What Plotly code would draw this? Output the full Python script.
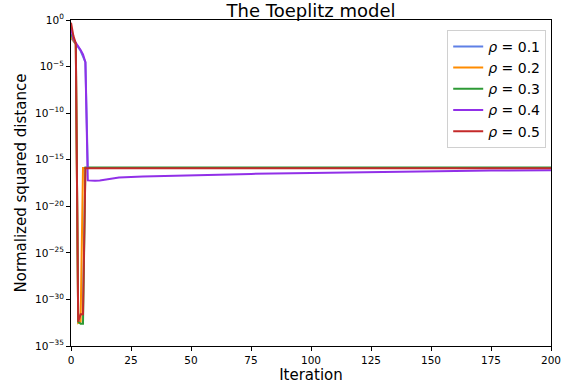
import plotly.graph_objects as go

# iterations at which values are sampled (dense at start, sparse later)
iters_early = [0, 1, 2, 3, 4, 5, 6, 7, 8, 10, 12, 15, 20, 30, 40, 50, 60, 75, 100, 125, 150, 175, 200]

rho_labels = ["0.1", "0.2", "0.3", "0.4", "0.5"]

dist_rho01 = [1.2e-2, 6e-3, 3e-3, 1.2e-3, 5e-4, 1.5e-4, 3e-5, 1.3e-16, 1.3e-16, 1.3e-16, 1.3e-16, 1.3e-16, 1.3e-16,
              1.3e-16, 1.3e-16, 1.3e-16, 1.3e-16, 1.3e-16, 1.3e-16, 1.3e-16, 1.3e-16, 1.3e-16, 1.3e-16]
dist_rho02 = [1.6e-2, 6e-3, 2.5e-3, 3e-33, 4e-33, 1.3e-16, 1.3e-16, 1.3e-16, 1.3e-16, 1.3e-16, 1.3e-16, 1.3e-16,
              1.3e-16, 1.3e-16, 1.3e-16, 1.3e-16, 1.3e-16, 1.3e-16, 1.3e-16, 1.3e-16, 1.3e-16, 1.3e-16, 1.3e-16]
dist_rho03 = [3e-2, 8e-3, 3e-3, 4e-33, 2.5e-33, 2.5e-33, 1.5e-16, 1.5e-16, 1.5e-16, 1.5e-16, 1.5e-16, 1.5e-16,
              1.5e-16, 1.5e-16, 1.5e-16, 1.5e-16, 1.5e-16, 1.5e-16, 1.5e-16, 1.5e-16, 1.5e-16, 1.5e-16, 1.5e-16]
dist_rho04 = [1.2e-1, 1e-2, 3.5e-3, 1.5e-3, 6e-4, 2e-4, 3e-5, 6e-18, 5.5e-18, 5.5e-18, 5.8e-18, 7.5e-18, 1.2e-17,
              1.6e-17, 1.9e-17, 2.2e-17, 2.5e-17, 3e-17, 3.7e-17, 4.7e-17, 5.7e-17, 6.8e-17, 7.5e-17]
dist_rho05 = [5e-1, 2e-2, 3e-3, 4e-33, 2.5e-32, 2.5e-32, 1.2e-16, 1.2e-16, 1.2e-16, 1.2e-16, 1.2e-16, 1.2e-16,
              1.2e-16, 1.2e-16, 1.2e-16, 1.2e-16, 1.2e-16, 1.2e-16, 1.2e-16, 1.2e-16, 1.2e-16, 1.2e-16, 1.2e-16]

x_ticks = [0, 25, 50, 75, 100, 125, 150, 175, 200]
y_tick_exps = [0, -5, -10, -15, -20, -25, -30, -35]

series = [dist_rho01, dist_rho02, dist_rho03, dist_rho04, dist_rho05]
colors = ["#5f80e6", "#ff8c00", "#2e9a36", "#9130e8", "#c42a2a"]

fig = go.Figure()
for lab, ys, c in zip(rho_labels, series, colors):
    fig.add_trace(go.Scatter(x=iters_early, y=ys, mode="lines",
                             line=dict(color=c, width=2),
                             name="<i>ρ</i> = " + lab))

font = "DejaVu Sans"
fig.update_layout(
    width=569, height=387,
    margin=dict(l=71, r=18, t=20, b=41),
    paper_bgcolor="white", plot_bgcolor="white",
    font=dict(family=font, color="black", size=10.5),
    title=dict(text="The Toeplitz model", x=0.5, xref="paper", xanchor="center",
               y=0.955, yref="container", yanchor="bottom", pad=dict(t=0, b=0),
               font=dict(size=18, family=font)),
    legend=dict(x=0.99, y=0.97, xanchor="right", yanchor="top",
                bordercolor="#d0d0d0", borderwidth=1, bgcolor="rgba(255,255,255,0.8)",
                font=dict(size=14, family=font)),
    showlegend=True,
)
fig.update_xaxes(range=[0, 200], tickvals=x_ticks, automargin=False,
                 showgrid=False, zeroline=False, showline=True, linecolor="black", linewidth=1,
                 mirror=True, ticks="outside", ticklen=4, tickcolor="black",
                 title=dict(text="Iteration", font=dict(size=15, family=font), standoff=3))
fig.update_yaxes(type="log", range=[-35, 0], automargin=False,
                 tickvals=[10.0 ** e for e in y_tick_exps],
                 ticktext=["10<sup>%s</sup>" % (str(e).replace("-", "−")) for e in y_tick_exps],
                 showgrid=False, zeroline=False, showline=True, linecolor="black", linewidth=1,
                 mirror=True, ticks="outside", ticklen=4, tickcolor="black",
                 title=dict(text="Normalized squared distance", font=dict(size=15, family=font), standoff=4))

fig.write_html("out.html", config={"displayModeBar": False},
               post_script="document.body.style.margin='0';")
